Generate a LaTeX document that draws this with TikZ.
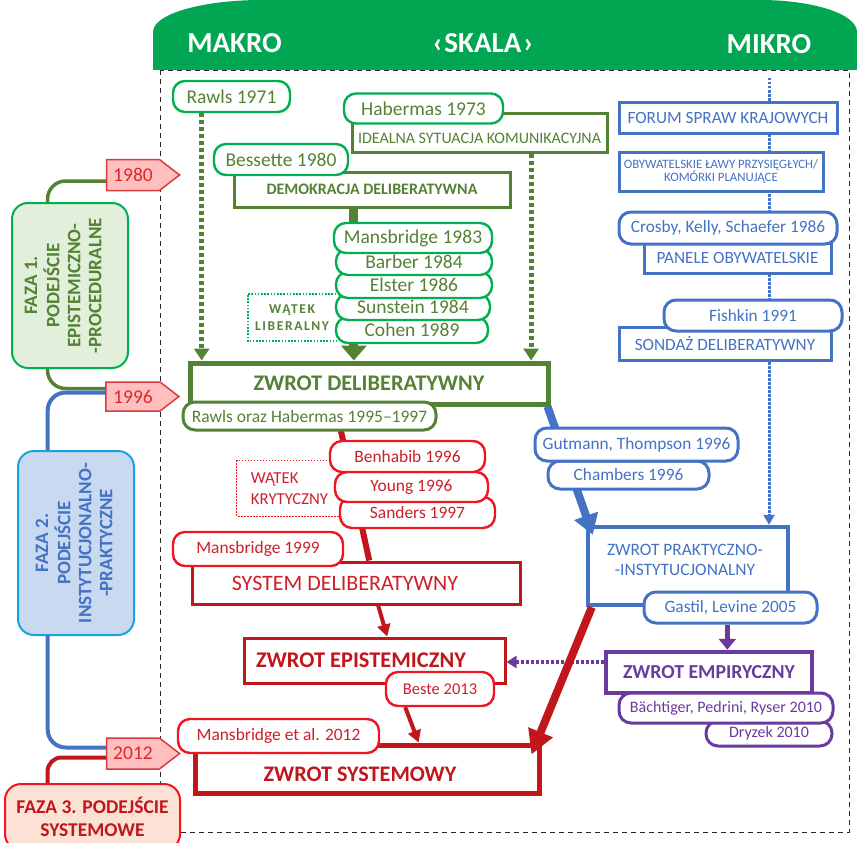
\documentclass[tikz,border=0pt]{standalone}
\usepackage{fontspec}
\setmainfont{Carlito}
\usepackage{graphicx}
\usetikzlibrary{arrows.meta,calc,shapes.symbols}

\definecolor{bargreen}{HTML}{00A651}
\definecolor{brgreen}{HTML}{00B050}
\definecolor{olivegr}{HTML}{548235}
\definecolor{fazagreen}{HTML}{E2EFDA}
\definecolor{blueA}{HTML}{4472C4}
\definecolor{fazablue}{HTML}{C9DAF0}
\definecolor{cyanA}{HTML}{1BA1E2}
\definecolor{redD}{HTML}{C0161C}
\definecolor{redB}{HTML}{F0151F}
\definecolor{redT}{HTML}{CC1F2A}
\definecolor{fazared}{HTML}{FBE2D5}
\definecolor{purp}{HTML}{6B3A9E}
\definecolor{tagfill}{HTML}{FFBFBF}
\definecolor{tagline}{HTML}{D93B3B}
\definecolor{tagtext}{HTML}{E0262B}

\newcommand{\fsz}[2]{\fontsize{#1}{#2}\selectfont}

\begin{document}
\begin{tikzpicture}[x=1pt, y=-1pt,
  dashframe/.style={black!85, line width=0.9pt, dash pattern=on 5pt off 4pt},
  bartext/.style={text=white, font=\bfseries\fsz{29}{34}},
  fazabox/.style={draw, rounded corners=16pt, line width=2pt, font=\bfseries\fsz{19}{21}, inner sep=0pt},
  tagbox/.style={signal, signal to=east, signal pointer angle=75, draw=tagline, fill=tagfill,
    text=tagtext, line width=1.5pt, minimum width=73pt, minimum height=31pt, inner sep=1pt,
    font=\fsz{19.5}{23}},
  gconn/.style={olivegr, line width=3.5pt, rounded corners=18pt},
  bconn/.style={blueA, line width=4pt, rounded corners=18pt},
  rconn/.style={redD, line width=4pt, rounded corners=14pt},
  namebox/.style={draw, fill=white, rounded corners=12pt, line width=2.4pt, inner sep=1pt},
  gname/.style={namebox, draw=brgreen, text=olivegr, font=\fsz{19.5}{23}},
  bname/.style={namebox, draw=blueA, line width=3pt, text=blueA, font=\fsz{17.3}{21}},
  rname/.style={namebox, draw=redB, text=redT, font=\fsz{17.4}{21}},
  pname/.style={namebox, draw=purp, line width=3pt, text=purp, font=\fsz{16}{19}},
  boxrect/.style={draw, fill=white, inner sep=1pt},
  grect/.style={boxrect, draw=olivegr, line width=3pt, text=olivegr},
  brect/.style={boxrect, draw=blueA, line width=3pt, text=blueA, font=\fsz{17.2}{20}},
  rrect/.style={boxrect, draw=redD, line width=3pt},
  prect/.style={boxrect, draw=purp, line width=4.5pt, text=purp, font=\bfseries\fsz{19.8}{23}},
  gdotted/.style={brgreen, line width=1.6pt, dash pattern=on 1.6pt off 1.6pt},
  rdotted/.style={redB, line width=1pt, dash pattern=on 1.5pt off 1.5pt},
  gdotarrow/.style={olivegr, line width=5pt, dash pattern=on 4pt off 3pt, -{Triangle[width=15pt,length=12pt]}},
  gbar/.style={olivegr, line width=9pt},
  gfat/.style={olivegr, line width=9pt, -{Triangle[width=25pt,length=15pt]}},
  bdotarrow/.style={blueA, line width=3pt, dash pattern=on 2.5pt off 1.5pt, -{Triangle[width=11pt,length=10pt]}},
  bfat/.style={blueA, line width=8pt, -{Triangle[width=24pt,length=20pt]}},
  rline/.style={redD, line width=6pt},
  rarrow/.style={redD, line width=4pt, -{Triangle[width=13pt,length=12pt]}},
  rfat/.style={redD, line width=8pt, -{Triangle[width=25pt,length=24pt]}},
  pfat/.style={purp, line width=5pt, -{Triangle[width=17pt,length=11pt]}},
  pdotarrow/.style={purp, line width=4pt, dash pattern=on 3pt off 2pt, -{Triangle[width=12pt,length=10pt]}}
]
\useasboundingbox (0,0) rectangle (857,843);

% frame and scale bar
\draw[dashframe] (160,70) rectangle (849,832);
\fill[bargreen] (153,70) -- (153,32) .. controls (153,14) and (202,0) .. (262,0)
  -- (760,0) .. controls (813,0) and (857,14) .. (857,32) -- (857,70) -- cycle;
\node (makro) [bartext] at (234.5,43) {MAKRO};
\node (skala) [bartext] at (483,43) {‹\kern2pt SKALA\kern2pt ›};
\node (mikro) [bartext] at (769,44) {MIKRO};

% phases
\node (faza1) [fazabox, draw=brgreen, fill=fazagreen, text=olivegr, minimum width=116pt, minimum height=165pt] at (70,285.5)
  {\rotatebox{90}{\begin{tabular}{@{}c@{}}FAZA 1.\\PODEJŚCIE\\EPISTEMICZNO-\\-PROCEDURALNE\end{tabular}}\kern10pt};
\node (faza2) [fazabox, draw=cyanA, fill=fazablue, text=blueA, minimum width=116pt, minimum height=184pt] at (76,543)
  {\rotatebox{90}{\begin{tabular}{@{}c@{}}FAZA 2.\\PODEJŚCIE\\INSTYTUCJONALNO-\\-PRAKTYCZNE\end{tabular}}};
\node (faza3) [fazabox, draw=redB, fill=fazared, text=redD, align=center, font=\bfseries\fsz{19.5}{23},
  minimum width=175pt, minimum height=66pt] at (92.5,817) {FAZA 3. PODEJŚCIE\\SYSTEMOWE};
\node (tag1980) [tagbox] at (133,175) {1980};
\node (tag1996) [tagbox, minimum height=29pt] at (133,396.5) {1996};
\node (tag2012) [tagbox] at (133,753.5) {2012};
\draw[gconn] ([yshift=-6pt]tag1980.west) -| ($(faza1.north west)!.31!(faza1.north east)$);
\draw[gconn] ($(faza1.south west)!.31!(faza1.south east)$) |- ([yshift=8pt]tag1996.west);
\draw[bconn] ([yshift=4pt]tag1996.west) -| ($(faza2.north west)!.26!(faza2.north east)$);
\draw[bconn] ($(faza2.south west)!.26!(faza2.south east)$) |- ([yshift=6pt]tag2012.west);
\draw[rconn] ([yshift=-4pt]tag2012.west) -| ($(faza3.north west)!.246!(faza3.north east)$);

% micro column
\node (zprakt) [brect, line width=4.5pt, minimum width=200pt, minimum height=78pt] at (688,566) {};
\node (zprakttxt) [text=blueA, font=\fsz{17.4}{20}, align=center] at ([xshift=-3pt,yshift=6pt]zprakt.center)
  {ZWROT PRAKTYCZNO-\\-INSTYTUCJONALNY};
\coordinate (mikrotop) at (769,78);
\draw[bdotarrow] (mikrotop) -- (mikrotop |- zprakt.north);
\node (forum) [brect, minimum width=218pt, minimum height=31pt] at (728,117.5) {FORUM SPRAW KRAJOWYCH};
\node (lawy) [brect, font=\fsz{12.8}{13.5}, align=center, minimum width=204pt, minimum height=39pt] at (721,171.5)
  {OBYWATELSKIE ŁAWY PRZYSIĘGŁYCH/\\KOMÓRKI PLANUJĄCE};
\node (panele) [brect, minimum width=187pt, minimum height=30pt] at (737.5,258) {PANELE OBYWATELSKIE};
\node (crosby) [bname, minimum width=218pt, minimum height=32pt] at (728,228) {Crosby, Kelly, Schaefer 1986};
\node (sondaz) [brect, minimum width=212pt, minimum height=33pt] at (725,343.5) {SONDAŻ DELIBERATYWNY};
\node (fish) [bname, minimum width=178pt, minimum height=31pt] at (753,315.5) {Fishkin 1991};

% macro column
\node (rawls71) [gname, minimum width=117pt, minimum height=31pt] at (231.5,96.5) {Rawls 1971};
\node (ideal) [grect, minimum width=255pt, minimum height=39pt] at (479.5,132.5) {};
\node (idealtxt) [text=olivegr, font=\fsz{16}{19}] at ([yshift=-5.5pt]ideal.center) {IDEALNA SYTUACJA KOMUNIKACYJNA};
\node (haber73) [gname, minimum width=159pt, minimum height=30pt] at (423.5,108.5) {Habermas 1973};
\node (demo) [grect, font=\bfseries\fsz{16}{19}, minimum width=276pt, minimum height=35pt] at (372,189.5)
  {DEMOKRACJA DELIBERATYWNA};
\node (bess80) [gname, minimum width=134pt, minimum height=31pt] at (281,159.5) {Bessette 1980};
\node (watlib) [text=olivegr, font=\bfseries\fsz{13.5}{17}\addfontfeatures{LetterSpace=12}, align=center,
  minimum width=88pt, minimum height=47pt] at (292,317.5) {WĄTEK\\LIBERALNY};
\draw[gdotted] (watlib.north east) -| (watlib.south west) -- (watlib.south east);
\node (cohen) [gname, minimum width=152pt, minimum height=26pt] at (412,330) {Cohen 1989};
\node (sunst) [gname, minimum width=154pt, minimum height=26pt] at (413,307) {Sunstein 1984};
\node (elster) [gname, minimum width=156pt, minimum height=26pt] at (414,285) {Elster 1986};
\node (barber) [gname, minimum width=156pt, minimum height=26pt] at (414,262) {Barber 1984};
\node (mans83) [gname, minimum width=158pt, minimum height=30pt] at (413,238) {Mansbridge 1983};
\node (zdelib) [grect, line width=5pt, font=\bfseries\fsz{22.3}{26}, minimum width=358pt, minimum height=41pt]
  at (369,383.5) {ZWROT DELIBERATYWNY};
\draw[gdotarrow] ($(rawls71.south west)!.25!(rawls71.south east)$) coordinate (r1) -- (r1 |- zdelib.north);
\draw[gdotarrow] ($(ideal.south west)!.7!(ideal.south east)$) coordinate (h1) -- (h1 |- zdelib.north);
\draw[gbar] ($(demo.south west)!.435!(demo.south east)$) coordinate (d1) -- (d1 |- mans83.north);
\draw[gfat] (d1 |- cohen.south) -- (d1 |- zdelib.north);

% practical turn
\draw[bfat] ([xshift=-3pt]zdelib.south east) -- ([xshift=7pt,yshift=-10pt]zprakt.north west);
\node (chamb) [bname, minimum width=161pt, minimum height=28pt] at (628.5,475) {Chambers 1996};
\node (gut) [bname, minimum width=203pt, minimum height=33pt] at (636.5,444.5) {Gutmann, Thompson 1996};
\node (gastil) [bname, minimum width=173pt, minimum height=31pt] at (730.5,607.5) {Gastil, Levine 2005};

% critical strand and system
\node (sysdel) [rrect, minimum width=328pt, minimum height=42pt] at (356,583) {};
\node (sysdeltxt) [text=redT, font=\fsz{22}{26}] at ([xshift=-11pt]sysdel.center) {SYSTEM DELIBERATYWNY};
\node (mans99) [rname, minimum width=170pt, minimum height=34pt] at (258,549) {Mansbridge 1999};
\draw[rline] ($(zdelib.south west)!.408!(zdelib.south east)$) -- ($(sysdel.north west)!.54!(sysdel.north east)$);
\node (rawhab) [gname, draw=olivegr, line width=3pt, font=\fsz{17.5}{21}, minimum width=253pt, minimum height=28pt]
  at (309.5,416) {Rawls oraz Habermas 1995--1997};
\node (watkryt) [text=redT, font=\fsz{16.7}{21}, align=left, minimum width=105pt, minimum height=55pt]
  at (289.5,488.5) {WĄTEK\\KRYTYCZNY};
\draw[rdotted] (watkryt.north east) -| (watkryt.south west) -- (watkryt.south east);
\node (sand) [rname, minimum width=155pt, minimum height=31pt] at (417.5,512.5) {Sanders 1997};
\node (young) [rname, minimum width=153pt, minimum height=30pt] at (411.5,487) {Young 1996};
\node (benh) [rname, minimum width=155pt, minimum height=31pt] at (407.5,456.5) {Benhabib 1996};

\node (zepi) [rrect, minimum width=261pt, minimum height=45pt] at (374.5,660.5) {};
\node (zepitxt) [text=redD, font=\bfseries\fsz{22.4}{26}] at ([xshift=-13.5pt]zepi.center) {ZWROT EPISTEMICZNY};
\node (beste) [rname, font=\fsz{16.5}{20}, minimum width=108pt, minimum height=34pt] at (440,689) {Beste 2013};
\draw[rarrow] ($(sysdel.south west)!.567!(sysdel.south east)$) -- ($(zepi.north west)!.548!(zepi.north east)$);

\node (zsys) [rrect, line width=5pt, minimum width=344pt, minimum height=48pt] at (367,769) {};
\node (zsystxt) [text=redD, font=\bfseries\fsz{22.2}{26}] at ([xshift=-7pt,yshift=-5pt]zsys.center) {ZWROT SYSTEMOWY};
\node (mans12) [rname, minimum width=201pt, minimum height=34pt] at (278.5,736) {Mansbridge et al. 2012};
\draw[rarrow] ($(beste.south west)!.185!(beste.south east)$) -- ($(zsys.north west)!.648!(zsys.north east)$);

% empirical turn
\node (zemp) [prect, minimum width=206pt, minimum height=41pt] at (709,672.5) {ZWROT EMPIRYCZNY};
\path ($(zemp.north west)!.587!(zemp.north east)$) coordinate (p1);
\draw[pfat] (p1 |- gastil.south) -- (p1);
\node (dryz) [pname, minimum width=126pt, minimum height=25pt] at (769,733.5) {Dryzek 2010};
\node (bacht) [pname, minimum width=214pt, minimum height=30pt] at (726,708) {Bächtiger, Pedrini, Ryser 2010};
\draw[pdotarrow] ([yshift=10.5pt]zemp.west) coordinate (p2) -- (p2 -| zepi.east);

\draw[rfat] ([xshift=6pt]zprakt.south west) -- ([xshift=-10pt,yshift=-12pt]zsys.north east);
\end{tikzpicture}
\end{document}
